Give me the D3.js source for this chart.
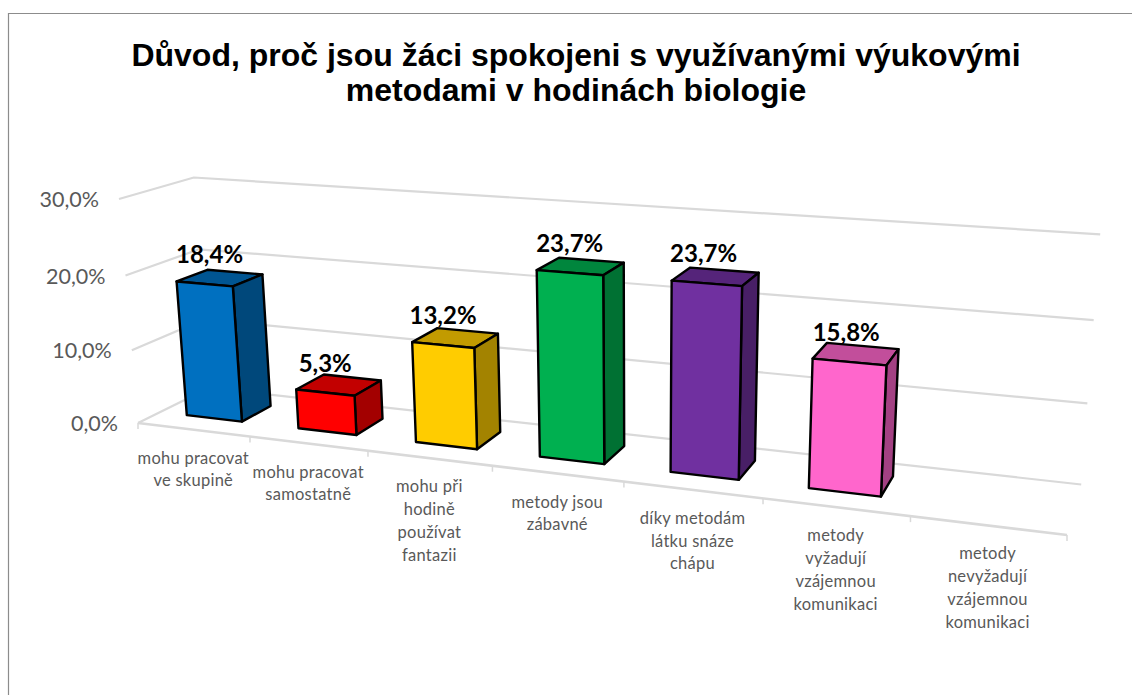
<!DOCTYPE html>
<html lang="cs">
<head>
  <meta charset="UTF-8">
  <title>Důvod spokojenosti</title>
  <script src="https://cdn.jsdelivr.net/npm/d3@7"></script>
  <style>
    html, body { margin: 0; padding: 0; background: #fff; }
    svg { display: block; }
  </style>
</head>
<body>
  <svg width="1132" height="695" id="main">
    <g id="frame"></g>
    <g id="title"></g>
    <g id="grid"></g>
    <g id="bars"></g>
    <g id="labels"></g>
  </svg>
<script>
  const titleLines = [
    'Důvod, proč jsou žáci spokojeni s využívanými výukovými',
    'metodami v hodinách biologie'
  ];
  const categories = [
    ['mohu pracovat', 've skupině'],
    ['mohu pracovat', 'samostatně'],
    ['mohu při', 'hodině', 'používat', 'fantazii'],
    ['metody jsou', 'zábavné'],
    ['díky metodám', 'látku snáze', 'chápu'],
    ['metody', 'vyžadují', 'vzájemnou', 'komunikaci'],
    ['metody', 'nevyžadují', 'vzájemnou', 'komunikaci']
  ];
  const values = [18.4, 5.3, 13.2, 23.7, 23.7, 15.8, 0];
  const colors = ['#0070C0', '#FF0000', '#FFCC00', '#00B050', '#7030A0', '#FF66CC', '#FFFFFF'];
  const yTicks = [0, 10, 20, 30];

  const svg = d3.select('#main');
  const fmt = v => v.toFixed(1).replace('.', ',') + '%';

  // scales into the unit cube of the 3d plot
  const uScale = d3.scaleLinear().domain([0, categories.length]).range([0, 1]);
  const vScale = d3.scaleLinear().domain([0, 30]).range([0, 1]);

  // perspective: three plot edges from the origin, and how they shrink
  const O = [138, 423], U = [1067, 535], D = [209, 388], V = [119, 199];
  const cu = -0.1775, cd = 0.068, cv = -0.0366;
  const au = [0, 1].map(i => U[i] * (1 + cu) - O[i]);
  const ad = [0, 1].map(i => D[i] * (1 + cd) - O[i]);
  const av = [0, 1].map(i => V[i] * (1 + cv) - O[i]);

  function project(cat, depth, val) {
    const u = uScale(cat), v = vScale(val);
    const w = 1 + cu * u + cd * depth + cv * v;
    return [0, 1].map(i => (O[i] + au[i] * u + ad[i] * depth + av[i] * v) / w);
  }

  const line = d3.line();
  const closed = pts => line(pts) + 'Z';

  // frame
  svg.select('#frame').append('path')
    .attr('d', 'M8.5,695V13.5H1132')
    .attr('fill', 'none')
    .attr('stroke', '#8c8c8c')
    .attr('stroke-width', 1.2);

  // title
  svg.select('#title').selectAll('text')
    .data(titleLines)
    .enter()
    .append('text')
    .text(d => d)
    .attr('x', 576)
    .attr('y', (d, i) => 66 + i * 35)
    .attr('text-anchor', 'middle')
    .attr('font-family', '"Liberation Sans", Arial, sans-serif')
    .attr('font-weight', 'bold')
    .attr('font-size', 32)
    .attr('fill', '#000');

  // gridlines: side wall + back wall
  const n = categories.length;
  const grid = svg.select('#grid');
  grid.selectAll('path.gridline')
    .data(yTicks)
    .enter()
    .append('path')
    .attr('class', 'gridline')
    .attr('d', d => line([project(0, 0, d), project(0, 1, d), project(n, 1, d)]))
    .attr('fill', 'none')
    .attr('stroke', '#d9d9d9')
    .attr('stroke-width', 2.2);

  // floor front edge and its ticks
  grid.append('path')
    .attr('d', line([project(0, 0, 0), project(n, 0, 0)]))
    .attr('stroke', '#d9d9d9')
    .attr('stroke-width', 2.6);
  grid.selectAll('path.tick')
    .data(d3.range(n + 1))
    .enter()
    .append('path')
    .attr('class', 'tick')
    .attr('d', d => {
      const p = project(d, 0, 0);
      return line([p, [p[0], p[1] + 6]]);
    })
    .attr('stroke', '#d9d9d9')
    .attr('stroke-width', 1.5);

  // y tick labels
  grid.selectAll('text')
    .data(yTicks)
    .enter()
    .append('text')
    .text(fmt)
    .attr('x', d => project(0, 0, d)[0] - 20)
    .attr('y', d => project(0, 0, d)[1] + 8)
    .attr('text-anchor', 'end')
    .attr('font-family', 'Lato, sans-serif')
    .attr('font-size', 21.5)
    .attr('fill', '#595959');

  // bars
  const barL = 0.245, barR = 0.745, d0 = 0.3, d1 = 0.73;
  const shade = (c, k) => {
    const r = d3.rgb(c);
    return d3.rgb(r.r * k, r.g * k, r.b * k).formatHex();
  };
  const barData = values.map((v, i) => ({ v, i, color: colors[i] })).filter(d => d.v > 0);

  const barG = svg.select('#bars').selectAll('g')
    .data(barData)
    .enter()
    .append('g')
    .attr('stroke', '#000')
    .attr('stroke-width', 2.4)
    .attr('stroke-linejoin', 'round');

  barG.append('path') // top
    .attr('fill', d => shade(d.color, 0.76))
    .attr('d', d => closed([
      project(d.i + barL, d0, d.v), project(d.i + barR, d0, d.v),
      project(d.i + barR, d1, d.v), project(d.i + barL, d1, d.v)
    ]));
  barG.append('path') // side
    .attr('fill', d => shade(d.color, 0.64))
    .attr('d', d => closed([
      project(d.i + barR, d0, 0), project(d.i + barR, d1, 0),
      project(d.i + barR, d1, d.v), project(d.i + barR, d0, d.v)
    ]));
  barG.append('path') // front
    .attr('fill', d => d.color)
    .attr('d', d => closed([
      project(d.i + barL, d0, 0), project(d.i + barR, d0, 0),
      project(d.i + barR, d0, d.v), project(d.i + barL, d0, d.v)
    ]));

  // value labels sit above the front face, a few are nudged sideways
  const labelNudge = [5, 0, 0, 0, -3, -3];
  svg.select('#labels').selectAll('text.value')
    .data(barData)
    .enter()
    .append('text')
    .attr('class', 'value')
    .text(d => fmt(d.v))
    .attr('x', d => project(d.i + 0.495, d0, d.v)[0] + labelNudge[d.i])
    .attr('y', d => project(d.i + 0.495, d0, d.v)[1] - 21)
    .attr('text-anchor', 'middle')
    .attr('font-family', 'Lato, sans-serif')
    .attr('font-weight', 'bold')
    .attr('font-size', 24)
    .attr('fill', '#000');

  // category labels
  const catG = svg.select('#labels').selectAll('g.cat')
    .data(categories)
    .enter()
    .append('g')
    .attr('class', 'cat')
    .attr('transform', (d, i) => {
      const p = project(i + 0.5, 0, 0);
      return `translate(${p[0]},${p[1] + 34})`;
    });
  catG.selectAll('text')
    .data(d => d)
    .enter()
    .append('text')
    .text(d => d)
    .attr('y', (d, i) => i * 22.8)
    .attr('text-anchor', 'middle')
    .attr('font-family', 'Lato, sans-serif')
    .attr('font-size', 16.5)
    .attr('letter-spacing', 0.25)
    .attr('fill', '#595959');
</script>
</body>
</html>
